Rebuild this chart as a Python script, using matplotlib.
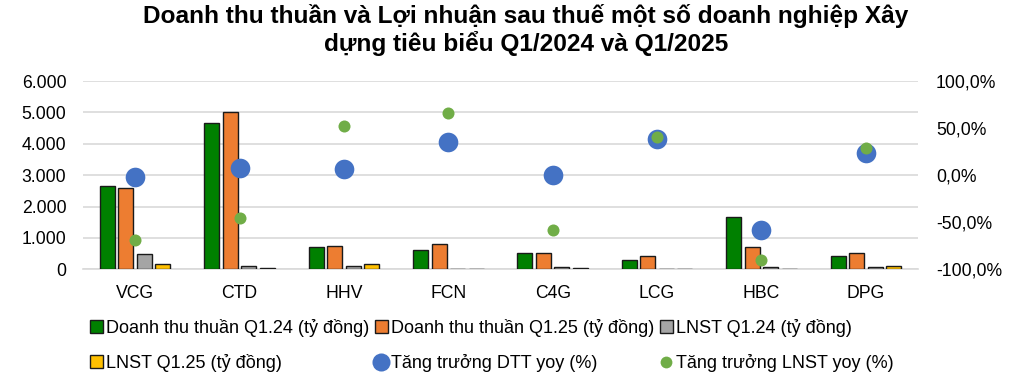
import matplotlib
matplotlib.use("Agg")
import matplotlib.pyplot as plt
import numpy as np
from matplotlib.patches import Patch
from matplotlib.lines import Line2D
from matplotlib.ticker import FuncFormatter

plt.rcParams['font.family'] = ['Liberation Sans', 'DejaVu Sans']

categories = ["VCG", "CTD", "HHV", "FCN", "C4G", "LCG", "HBC", "DPG"]
dtt_q124 = [2650, 4670, 700, 605, 510, 306, 1656, 433]
dtt_q125 = [2600, 5000, 730, 815, 510, 433, 700, 529]
lnst_q124 = [478, 105, 115, 10, 60, 15, 60, 83]
lnst_q125 = [160, 55, 180, 5, 40, 10, 10, 95]
dtt_yoy = [-2.0, 7.4, 6.7, 34.7, 0.4, 38.0, -58.0, 24.0]
lnst_yoy = [-68.7, -45.0, 52.0, 65.5, -58.6, 40.0, -90.5, 29.0]

title = "Doanh thu thuần và Lợi nhuận sau thuế một số doanh nghiệp Xây\ndựng tiêu biểu Q1/2024 và Q1/2025"
labels = ["Doanh thu thuần Q1.24 (tỷ đồng)", "Doanh thu thuần Q1.25 (tỷ đồng)",
          "LNST Q1.24 (tỷ đồng)", "LNST Q1.25 (tỷ đồng)",
          "Tăng trưởng DTT yoy (%)", "Tăng trưởng LNST yoy (%)"]
colors = ["#008000", "#ED7D31", "#A5A5A5", "#FFC000"]
dot_colors = ["#4472C4", "#70AD47"]

W, H = 1027, 375
fig = plt.figure(figsize=(W / 100, H / 100), dpi=100)
left, right, top, bottom = 83, 918, 81, 269.3
ax = fig.add_axes([left / W, (H - bottom) / H, (right - left) / W, (bottom - top) / H])
ax2 = ax.twinx()

x = np.arange(len(categories))
slot = 0.177
bw = 0.144
series = [dtt_q124, dtt_q125, lnst_q124, lnst_q125]
for i, (vals, c) in enumerate(zip(series, colors)):
    ax.bar(x + (i - 1.5) * slot, vals, width=bw, color=c, edgecolor="#1a1a1a",
           linewidth=1.0, zorder=3)

ax2.scatter(x, dtt_yoy, s=200, color=dot_colors[0], zorder=4, linewidths=0)
ax2.scatter(x, lnst_yoy, s=75, color=dot_colors[1], zorder=5, linewidths=0)

ax.set_xlim(-0.5, len(categories) - 0.5)
ax.set_ylim(0, 6000)
ax.set_yticks(np.arange(0, 6001, 1000))
ax.yaxis.set_major_formatter(FuncFormatter(lambda v, p: f"{int(v):,}".replace(",", ".")))
ax2.set_ylim(-100, 100)
ax2.set_yticks(np.arange(-100, 101, 50))
ax2.yaxis.set_major_formatter(FuncFormatter(lambda v, p: f"{v:.1f}%".replace(".", ",")))

ax.set_xticks(x)
ax.set_xticklabels(categories)
ax.grid(axis="y", color="#D9D9D9", linewidth=1.2, zorder=0)
ax.set_axisbelow(True)
for a in (ax, ax2):
    for s in a.spines.values():
        s.set_visible(False)
ax.spines["bottom"].set_visible(True)
ax.spines["bottom"].set_color("#D9D9D9")
ax.spines["bottom"].set_linewidth(1.2)

ax.tick_params(axis="both", length=0, labelsize=12.7, colors="black")
ax.tick_params(axis="y", pad=12)
ax.tick_params(axis="x", pad=11.5)
ax2.tick_params(axis="y", length=0, labelsize=12.7, pad=13)

ax2.set_zorder(2)
ax.set_zorder(1)
ax2.patch.set_visible(False)

fig.text(0.512, 1 - 30 / H, title, ha="center", va="center", fontsize=17.6,
         fontweight="bold", linespacing=1.1)

h = [Patch(facecolor=c, edgecolor="#1a1a1a", linewidth=1.0) for c in colors]
h.append(Line2D([], [], marker="o", linestyle="none", markersize=13,
                markerfacecolor=dot_colors[0], markeredgewidth=0))
h.append(Line2D([], [], marker="o", linestyle="none", markersize=8.5,
                markerfacecolor=dot_colors[1], markeredgewidth=0))
order = [0, 3, 1, 4, 2, 5]
leg = fig.legend([h[i] for i in order], [labels[i] for i in order], ncol=3,
                 loc="center", bbox_to_anchor=(0.479, 1 - 345.5 / H), frameon=False,
                 fontsize=13, handlelength=0.7, handleheight=0.7, handletextpad=0.2,
                 columnspacing=0.3, labelspacing=0.95, borderpad=0)

fig.savefig("out.png", dpi=100)
